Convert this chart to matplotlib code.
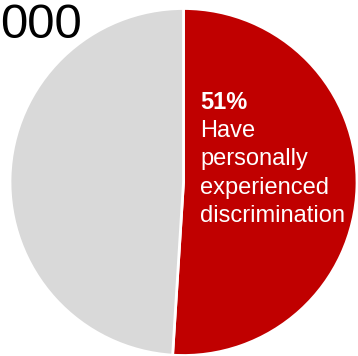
import matplotlib.pyplot as plt

# data
labels = ['Have personally experienced discrimination', 'Other']
values = [51, 49]
colors = ['#C00000', '#D9D9D9']
label_lines = ['Have', 'personally', 'experienced', 'discrimination']

W, H = 358, 356
fig = plt.figure(figsize=(W / 100, H / 100), dpi=100)
ax = fig.add_axes([0, 0, 1, 1])

ax.pie(values, colors=colors, startangle=90, counterclock=False,
       center=(183.5, H - 182), radius=173.5, frame=True,
       wedgeprops=dict(edgecolor='white', linewidth=2))
ax.set_xlim(0, W)
ax.set_ylim(0, H)
ax.set_aspect('auto')
ax.axis('off')

plt.rcParams['font.family'] = ['Liberation Sans', 'DejaVu Sans']

# stray "000" label at top-left
ax.text(0.5, H - 37.5, '000', fontsize=35.5, color='black', va='baseline', ha='left')

# slice label
ax.text(200, H - 109, f'{values[0]}%', fontsize=17, fontweight='bold',
        color='white', va='baseline', ha='left')
for i, line in enumerate(label_lines):
    ax.text(200, H - (137 + 28.3 * i), line, fontsize=17, color='white',
            va='baseline', ha='left')

fig.savefig('out.png', dpi=100)
